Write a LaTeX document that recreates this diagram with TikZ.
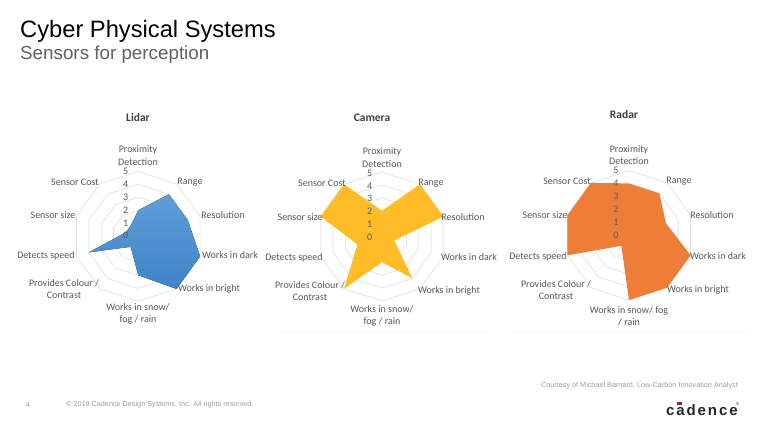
\documentclass[tikz,border=0pt]{standalone}
\usepackage{fontspec}
\setmainfont{Carlito}
\newfontfamily\arialfont{Liberation Sans}
\usetikzlibrary{positioning,calc}

\definecolor{gridgray}{HTML}{E2E2E2}
\definecolor{labelgray}{HTML}{595959}
\definecolor{lidartop}{HTML}{5E9DD8}
\definecolor{lidarbot}{HTML}{3F84C8}
\definecolor{camerafill}{HTML}{FFBC27}
\definecolor{radarfill}{HTML}{ED7D37}
\definecolor{logored}{HTML}{B5123A}

\tikzset{
  lab/.style={text=labelgray, font=\fontsize{10}{12.4}\selectfont, align=center, inner sep=0pt},
  num/.style={lab, font=\fontsize{10}{11}\selectfont},
  charttitle/.style={text=black!75, font=\fontsize{11.5}{13}\selectfont\bfseries, inner sep=0pt},
  foot/.style={text=black!38, font=\arialfont\fontsize{7.25}{9}\selectfont, inner sep=0pt},
  gridline/.style={draw=gridgray, line width=0.7pt},
  panelline/.style={draw=black!4, line width=0.6pt}
}

% decagon rings round one chart
\newcommand{\ringset}[3]{
  \foreach \r in {1,...,5}
    \draw[gridline, shift={(#1,#2)}] (-90:#3*\r)
      \foreach \k in {1,...,9} { -- (-90+36*\k:#3*\r) } -- cycle;
}
% corner points of one chart
\newcommand{\valpoints}[5]{
  \foreach \v [count=\i] in {#5}
    \coordinate (#1\i) at ($(#2,#3)+(-126+36*\i:#4*\v)$);
}

\begin{document}
\begin{tikzpicture}[x=1pt,y=-1pt]
  \useasboundingbox (0,0) rectangle (761,427);
  \fill[white] (0,0) rectangle (761,427);

  \node[anchor=west, inner sep=0pt, font=\arialfont\fontsize{23.7}{26}\selectfont, text=black] (head) at (20,31) {Cyber Physical Systems};
  \node[anchor=west, inner sep=0pt, font=\arialfont\fontsize{18.8}{22}\selectfont, text=black!62] (subhead) at (20,55) {Sensors for perception};

  % Lidar
  \ringset{138.3}{236.3}{13}
  \valpoints{li}{138.3}{236.3}{13}{2,4,4,5,5,3,1,4,1,1}
  \fill[top color=lidartop, bottom color=lidarbot] (li1) -- (li2) -- (li3) -- (li4) -- (li5) -- (li6) -- (li7) -- (li8) -- (li9) -- (li10) -- cycle;
  \node[charttitle] (lidar) at (138,118) {Lidar};
  \node[lab] (li_prox) at (138,155.5) {Proximity\\Detection};
  \node[lab] (li_range) at (190,182) {Range};
  \node[lab] (li_res) at (223,215) {Resolution};
  \node[lab] (li_dark) at (230,255.5) {Works in dark};
  \node[lab] (li_bright) at (209,289) {Works in bright};
  \node[lab] (li_snow) at (138,314) {Works in snow/\\fog / rain};
  \node[lab] (li_col) at (64,289) {Provides Colour /\\Contrast};
  \node[lab] (li_speed) at (46,255.5) {Detects speed};
  \node[lab] (li_size) at (53,215) {Sensor size};
  \node[lab] (li_cost) at (75,182) {Sensor Cost};
  \foreach \n in {0,...,5}
    \node[num] (li_n\n) at (125.7,235.7-12.8*\n) {\n};

  % Camera
  \ringset{382}{236.5}{12.9}
  \valpoints{ca}{382}{236.5}{12.9}{2,5,5,1,4,2,5,2,5,5}
  \fill[camerafill] (ca1) -- (ca2) -- (ca3) -- (ca4) -- (ca5) -- (ca6) -- (ca7) -- (ca8) -- (ca9) -- (ca10) -- cycle;
  \node[charttitle] (camera) at (372,118) {Camera};
  \node[lab] (ca_prox) at (382,157.5) {Proximity\\Detection};
  \node[lab] (ca_range) at (431,183) {Range};
  \node[lab] (ca_res) at (463,217) {Resolution};
  \node[lab] (ca_dark) at (469,257.5) {Works in dark};
  \node[lab] (ca_bright) at (449,291) {Works in bright};
  \node[lab] (ca_snow) at (382,316) {Works in snow/\\fog / rain};
  \node[lab] (ca_col) at (310,291) {Provides Colour /\\Contrast};
  \node[lab] (ca_speed) at (294,257.5) {Detects speed};
  \node[lab] (ca_size) at (300,217) {Sensor size};
  \node[lab] (ca_cost) at (322,183) {Sensor Cost};
  \foreach \n in {0,...,5}
    \node[num] (ca_n\n) at (369.7,237.3-12.85*\n) {\n};
  \draw[panelline] (282,331) -- (488,331);

  % Radar
  \ringset{629}{235.3}{12.95}
  \valpoints{ra}{629}{235.3}{12.95}{4,4,3,5,5,5,1,5,5,5}
  \fill[radarfill] (ra1) -- (ra2) -- (ra3) -- (ra4) -- (ra5) -- (ra6) -- (ra7) -- (ra8) -- (ra9) -- (ra10) -- cycle;
  \node[charttitle] (radar) at (624,115) {Radar};
  \node[lab] (ra_prox) at (629,155) {Proximity\\Detection};
  \node[lab] (ra_range) at (679,181) {Range};
  \node[lab] (ra_res) at (712,215) {Resolution};
  \node[lab] (ra_dark) at (718,256.5) {Works in dark};
  \node[lab] (ra_bright) at (698,290) {Works in bright};
  \node[lab] (ra_snow) at (629,316) {Works in snow/ fog\\/ rain};
  \node[lab] (ra_col) at (556,290) {Provides Colour /\\Contrast};
  \node[lab] (ra_speed) at (538,256.5) {Detects speed};
  \node[lab] (ra_size) at (545,215) {Sensor size};
  \node[lab] (ra_cost) at (567,181) {Sensor Cost};
  \foreach \n in {0,...,5}
    \node[num] (ra_n\n) at (616,235.3-12.9*\n) {\n};
  \draw[panelline] (512,331) -- (745,331);

  % footer
  \node[foot, anchor=east] (courtesy) at (738,386) {Courtesy of Michael Barnard, Low-Carbon Innovation Analyst};
  \node[foot] (page) at (28,405) {4};
  \node[foot, anchor=west] (copy) at (66,405) {\textcopyright{} 2019 Cadence Design Systems, Inc. All rights reserved.};
  \node[anchor=west, inner sep=0pt, text=black!85, font=\arialfont\fontsize{15}{18}\selectfont\bfseries] (logo) at (666,410.5) {c\hspace{1.9pt}a\hspace{1.9pt}d\hspace{1.9pt}e\hspace{1.9pt}n\hspace{1.9pt}c\hspace{1.9pt}e};
  \fill[logored] (676.7,402.3) rectangle (682.3,405.3);
  \node[inner sep=0pt, text=black!85, font=\arialfont\fontsize{4}{4}\selectfont] (logomark) at (737.5,404) {®};
\end{tikzpicture}
\end{document}
